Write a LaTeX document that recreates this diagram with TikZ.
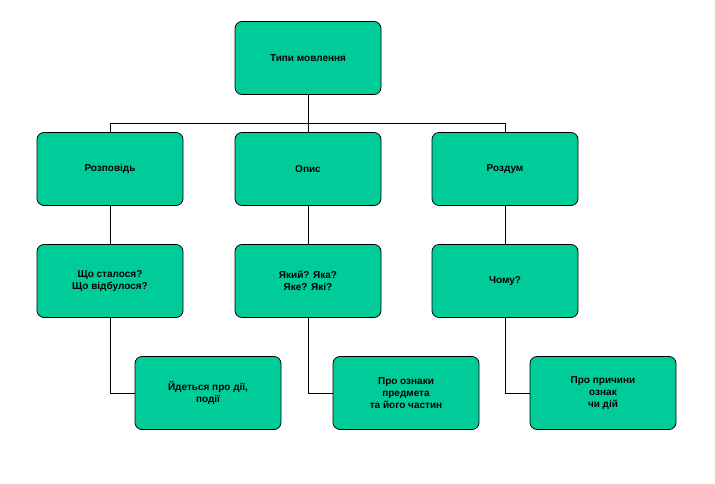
\documentclass[tikz,border=0pt]{standalone}
\usepackage{fontspec}
\setmainfont{Liberation Sans}
\usetikzlibrary{positioning}
\definecolor{boxgreen}{HTML}{00CC99}
\tikzset{
    boxnode/.style={draw=black, fill=boxgreen, rounded corners=7pt, thick,
        minimum width=146pt, minimum height=73pt, align=center,
        font=\fontsize{10}{12}\selectfont\bfseries},
    link/.style={draw=black, semithick}
}
\begin{document}
\begin{tikzpicture}[x=1pt, y=-1pt]
    \useasboundingbox (0,0) rectangle (715,484);
    \node[boxnode] (top) at (308,58) {Типи мовлення};
    \node[boxnode] (a1) at (110,169) {Розповідь};
    \node[boxnode] (a2) at (308,169) {Опис};
    \node[boxnode] (a3) at (505,169) {Роздум};
    \node[boxnode] (b1) at (110,281) {Що сталося?\\Що відбулося?};
    \node[boxnode] (b2) at (308,281) {Який? Яка?\\Яке? Які?};
    \node[boxnode] (b3) at (505,281) {Чому?};
    \node[boxnode] (c1) at (208,393) {Йдеться про дії,\\події};
    \node[boxnode] (c2) at (406,393) {Про ознаки\\предмета\\та його частин};
    \node[boxnode] (c3) at (603,393) {Про причини\\ознак\\чи дій};
    \coordinate (bus) at (308,123);
    \begin{scope}[on background layer/.style={}]
    \draw[link] (top.south) -- (bus);
    \foreach \s in {1,2,3}{
        \draw[link] (a\s.north) |- (bus);
        \draw[link] (a\s.south) -- (b\s.north);
        \draw[link] (b\s.south) |- (c\s.west);
    }
    \end{scope}
\end{tikzpicture}
\end{document}
